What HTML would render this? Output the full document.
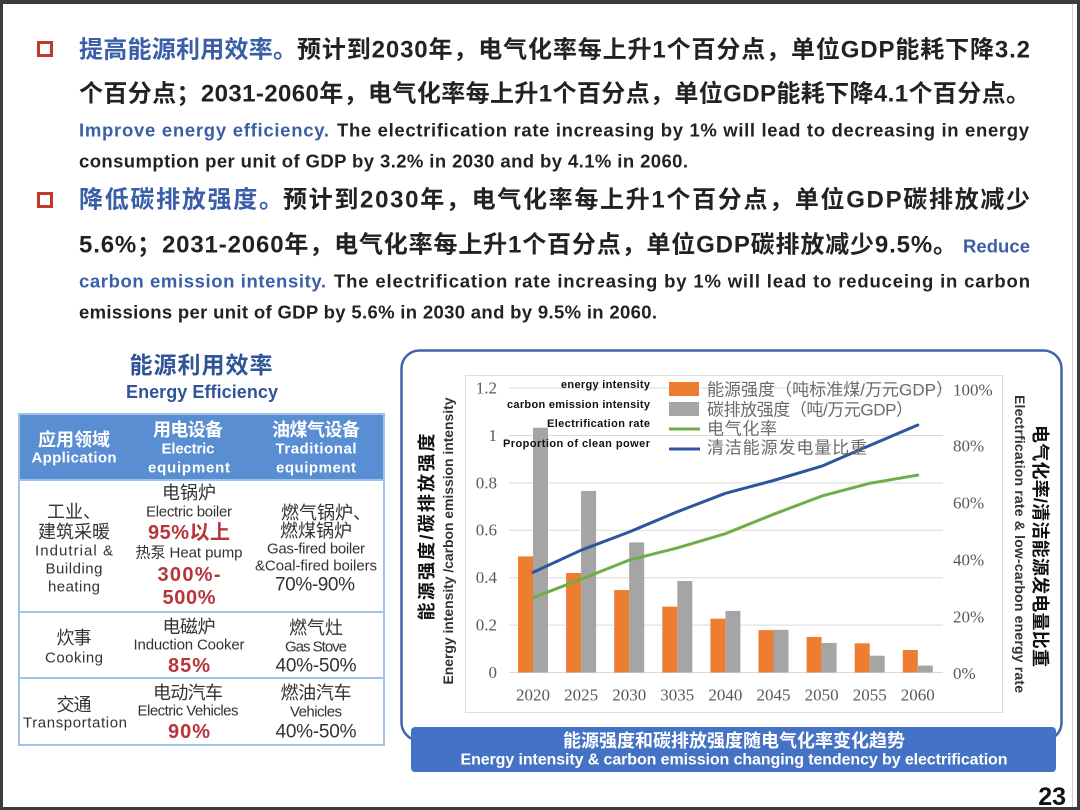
<!DOCTYPE html>
<html>
<head>
<meta charset="utf-8">
<style>
html,body{margin:0;padding:0;background:#fff;}
body{width:1080px;height:810px;overflow:hidden;}
svg{display:block;}
.cj{font-family:"Liberation Sans","Noto Sans CJK SC",sans-serif;}
.b{font-weight:bold;}
.sf{font-family:"Liberation Serif","Noto Serif CJK SC",serif;}
text{dominant-baseline:central;}
</style>
</head>
<body>
<svg width="1080" height="810" viewBox="0 0 1080 810" xmlns="http://www.w3.org/2000/svg">
  <rect x="0" y="0" width="1080" height="810" fill="#fff"/>
  <!-- frame -->
  <line x1="1072.5" y1="0" x2="1072.5" y2="810" stroke="#d0d0d0" stroke-width="1"/>
  <rect x="0" y="0" width="1080" height="4" fill="#3c3c3c"/>
  <rect x="0" y="0" width="3" height="810" fill="#3c3c3c"/>
  <rect x="1077" y="0" width="3" height="810" fill="#3c3c3c"/>
  <rect x="0" y="807" width="1080" height="3" fill="#3c3c3c"/>

  <!-- Top paragraphs -->
  <rect x="38.5" y="42.5" width="13" height="13" fill="none" stroke="#c0392b" stroke-width="3"/>
  <text class="cj b" x="79" y="50" font-size="24" fill="#3a5ea8" textLength="218">提高能源利用效率。</text>
  <text class="cj b" x="297" y="50" font-size="24" fill="#222" textLength="733">预计到2030年，电气化率每上升1个百分点，单位GDP能耗下降3.2</text>
  <text class="cj b" x="79" y="94" font-size="24" fill="#222" textLength="951">个百分点；2031-2060年，电气化率每上升1个百分点，单位GDP能耗下降4.1个百分点。</text>
  <text class="cj b" x="79" y="130" font-size="18.5" fill="#3a5ea8" textLength="250">Improve energy efficiency.</text>
  <text class="cj b" x="337" y="130" font-size="18.5" fill="#222" textLength="692">The electrification rate increasing by 1% will lead to decreasing in energy</text>
  <text class="cj b" x="79" y="161" font-size="18.5" fill="#222" textLength="609">consumption per unit of GDP by 3.2% in 2030 and by 4.1% in 2060.</text>

  <rect x="38.5" y="193.5" width="13" height="13" fill="none" stroke="#c0392b" stroke-width="3"/>
  <text class="cj b" x="79" y="200" font-size="24" fill="#3a5ea8" textLength="204">降低碳排放强度。</text>
  <text class="cj b" x="283" y="200" font-size="24" fill="#222" textLength="747">预计到2030年，电气化率每上升1个百分点，单位GDP碳排放减少</text>
  <text class="cj b" x="79" y="245" font-size="24" fill="#222" textLength="878">5.6%；2031-2060年，电气化率每上升1个百分点，单位GDP碳排放减少9.5%。</text>
  <text class="cj b" x="963" y="246" font-size="18.5" fill="#3a5ea8" textLength="67">Reduce</text>
  <text class="cj b" x="79" y="281" font-size="18.5" fill="#3a5ea8" textLength="247">carbon emission intensity.</text>
  <text class="cj b" x="334" y="281" font-size="18.5" fill="#222" textLength="696">The electrification rate increasing by 1% will lead to reduceing in carbon</text>
  <text class="cj b" x="79" y="312" font-size="18.5" fill="#222" textLength="578">emissions per unit of GDP by 5.6% in 2030 and by 9.5% in 2060.</text>

  <!-- Left table -->
  <text class="cj b" x="201" y="365" font-size="23" fill="#2f5597" text-anchor="middle" textLength="143">能源利用效率</text>
  <text class="cj b" x="202" y="392" font-size="18" fill="#2f5597" text-anchor="middle" textLength="152">Energy Efficiency</text>

  <rect x="18" y="413" width="367" height="67" fill="#5a8ed2"/>
  <rect x="19" y="414" width="365" height="331" fill="none" stroke="#9fc2e7" stroke-width="2"/>
  <line x1="19" y1="480" x2="384" y2="480" stroke="#9fc2e7" stroke-width="2"/>
  <line x1="19" y1="612" x2="384" y2="612" stroke="#9fc2e7" stroke-width="2"/>
  <line x1="19" y1="678" x2="384" y2="678" stroke="#9fc2e7" stroke-width="2"/>

  <g class="cj b" fill="#fff" text-anchor="middle">
    <text x="74" y="440" font-size="18" textLength="72">应用领域</text>
    <text x="74" y="458" font-size="15" textLength="85">Application</text>
    <text x="188" y="430" font-size="18" textLength="70">用电设备</text>
    <text x="188" y="449" font-size="15" textLength="53">Electric</text>
    <text x="189" y="468" font-size="15" textLength="82">equipment</text>
    <text x="316" y="430" font-size="18" textLength="88">油煤气设备</text>
    <text x="316" y="449" font-size="15" textLength="81">Traditional</text>
    <text x="316" y="468" font-size="15" textLength="80">equipment</text>
  </g>

  <g class="cj" fill="#333" text-anchor="middle">
    <text x="47" y="512" font-size="18" text-anchor="start">工业、</text>
    <text x="74" y="532" font-size="18" textLength="72">建筑采暖</text>
    <text x="74" y="551" font-size="15" textLength="78">Indutrial &amp;</text>
    <text x="74" y="569" font-size="15" textLength="57">Building</text>
    <text x="74" y="587" font-size="15" textLength="52">heating</text>

    <text x="189" y="493" font-size="18" textLength="54">电锅炉</text>
    <text x="189" y="512" font-size="15" textLength="86">Electric boiler</text>
    <text x="189" y="553" font-size="15" textLength="107">热泵 Heat pump</text>

    <text x="281" y="513" font-size="18" text-anchor="start">燃气锅炉、</text>
    <text x="316" y="531" font-size="18" textLength="72">燃煤锅炉</text>
    <text x="316" y="549" font-size="15" textLength="98">Gas-fired boiler</text>
    <text x="316" y="566" font-size="15" textLength="122">&amp;Coal-fired boilers</text>
    <text x="315" y="585" font-size="19" textLength="80">70%-90%</text>

    <text x="74" y="638" font-size="18" textLength="35">炊事</text>
    <text x="74" y="658" font-size="15" textLength="58">Cooking</text>
    <text x="189" y="627" font-size="18" textLength="53">电磁炉</text>
    <text x="189" y="645" font-size="15" textLength="111">Induction Cooker</text>
    <text x="316" y="628" font-size="18" textLength="54">燃气灶</text>
    <text x="316" y="647" font-size="15" textLength="62">Gas Stove</text>
    <text x="316" y="666" font-size="19" textLength="81">40%-50%</text>

    <text x="74" y="705" font-size="18" textLength="35">交通</text>
    <text x="75" y="723" font-size="15" textLength="104">Transportation</text>
    <text x="188" y="693" font-size="18" textLength="70">电动汽车</text>
    <text x="188" y="711" font-size="15" textLength="101">Electric Vehicles</text>
    <text x="316" y="693" font-size="18" textLength="71">燃油汽车</text>
    <text x="316" y="712" font-size="15" textLength="52">Vehicles</text>
    <text x="316" y="732" font-size="19" textLength="81">40%-50%</text>
  </g>
  <g class="cj b" fill="#b8343a" text-anchor="middle">
    <text x="189" y="533" font-size="20" textLength="82">95%以上</text>
    <text x="189" y="575" font-size="20" textLength="63">300%-</text>
    <text x="189" y="598" font-size="20" textLength="53">500%</text>
    <text x="189" y="666" font-size="20" textLength="42">85%</text>
    <text x="189" y="732" font-size="20" textLength="42">90%</text>
  </g>

  <!-- Chart container -->
  <rect x="401.5" y="350.5" width="660" height="390" rx="18" ry="18" fill="#fff" stroke="#3e65a5" stroke-width="2.5"/>
  <rect x="465.5" y="375.5" width="537" height="337" fill="none" stroke="#dcdcdc" stroke-width="1"/>

  <!-- gridlines -->
  <g stroke="#d9d9d9" stroke-width="1">
    <line x1="509" y1="672.5" x2="943" y2="672.5"/>
    <line x1="509" y1="625.1" x2="943" y2="625.1"/>
    <line x1="509" y1="577.7" x2="943" y2="577.7"/>
    <line x1="509" y1="530.3" x2="943" y2="530.3"/>
    <line x1="509" y1="482.9" x2="943" y2="482.9"/>
    <line x1="509" y1="435.5" x2="943" y2="435.5"/>
    <line x1="509" y1="388.1" x2="943" y2="388.1"/>
  </g>

  <!-- left tick labels -->
  <g class="sf" font-size="17" fill="#595959" text-anchor="end">
    <text x="497" y="388">1.2</text>
    <text x="497" y="435.5">1</text>
    <text x="497" y="483">0.8</text>
    <text x="497" y="530">0.6</text>
    <text x="497" y="577.7">0.4</text>
    <text x="497" y="625">0.2</text>
    <text x="497" y="672.5">0</text>
  </g>
  <!-- right tick labels -->
  <g class="sf" font-size="17" fill="#595959">
    <text x="953" y="390">100%</text>
    <text x="953" y="446">80%</text>
    <text x="953" y="503">60%</text>
    <text x="953" y="560">40%</text>
    <text x="953" y="617">20%</text>
    <text x="953" y="673.5">0%</text>
  </g>
  <!-- x labels -->
  <g class="sf" font-size="17" fill="#595959" text-anchor="middle">
    <text x="533" y="695">2020</text>
    <text x="581.1" y="695">2025</text>
    <text x="629.2" y="695">2030</text>
    <text x="677.3" y="695">3035</text>
    <text x="725.4" y="695">2040</text>
    <text x="773.5" y="695">2045</text>
    <text x="821.6" y="695">2050</text>
    <text x="869.7" y="695">2055</text>
    <text x="917.8" y="695">2060</text>
  </g>

  <!-- bars -->
  <g fill="#ed7d31">
    <rect x="518" y="556.4" width="15" height="116.1"/>
    <rect x="566.1" y="573.0" width="15" height="99.5"/>
    <rect x="614.2" y="590.0" width="15" height="82.5"/>
    <rect x="662.3" y="606.6" width="15" height="65.9"/>
    <rect x="710.4" y="618.7" width="15" height="53.8"/>
    <rect x="758.5" y="630.1" width="15" height="42.4"/>
    <rect x="806.6" y="636.9" width="15" height="35.6"/>
    <rect x="854.7" y="643.3" width="15" height="29.2"/>
    <rect x="902.8" y="650.0" width="15" height="22.5"/>
  </g>
  <g fill="#a5a5a5">
    <rect x="533" y="427.7" width="15" height="244.8"/>
    <rect x="581.1" y="491.0" width="15" height="181.5"/>
    <rect x="629.2" y="542.4" width="15" height="130.1"/>
    <rect x="677.3" y="581.0" width="15" height="91.5"/>
    <rect x="725.4" y="610.9" width="15" height="61.6"/>
    <rect x="773.5" y="629.8" width="15" height="42.7"/>
    <rect x="821.6" y="642.9" width="15" height="29.6"/>
    <rect x="869.7" y="655.7" width="15" height="16.8"/>
    <rect x="917.8" y="665.6" width="15" height="6.9"/>
  </g>

  <!-- legend -->
  <g class="cj b" font-size="11" fill="#111" text-anchor="end">
    <text x="650" y="385" textLength="89">energy intensity</text>
    <text x="650" y="405" textLength="143">carbon emission intensity</text>
    <text x="650" y="424" textLength="103">Electrification rate</text>
    <text x="650" y="444" textLength="147">Proportion of clean power</text>
  </g>
  <rect x="669" y="382" width="30" height="14" fill="#ed7d31"/>
  <rect x="669" y="402" width="30" height="14" fill="#a5a5a5"/>
  <line x1="669" y1="429" x2="700" y2="429" stroke="#70ad47" stroke-width="3"/>

  <!-- lines -->
  <polyline fill="none" stroke="#70ad47" stroke-width="3" stroke-linejoin="round" stroke-linecap="round"
    points="533,597.7 581.1,579.2 629.2,560.1 677.3,547.9 725.4,533.7 773.5,514.3 821.6,496.1 869.7,483.3 917.8,475.1"/>
  <polyline fill="none" stroke="#2f54a0" stroke-width="3" stroke-linejoin="round" stroke-linecap="round"
    points="533,572.4 581.1,550.2 629.2,532.0 677.3,511.8 725.4,493.3 773.5,480.5 821.6,466.2 869.7,445.5 917.8,425.0"/>
  <line x1="669" y1="449" x2="700" y2="449" stroke="#2f54a0" stroke-width="3"/>

  <g class="cj" font-size="17" fill="#6b6b6b">
    <text x="707" y="390" textLength="246">能源强度（吨标准煤/万元GDP）</text>
    <text x="707" y="410" textLength="206">碳排放强度（吨/万元GDP）</text>
    <text x="707" y="429" textLength="70">电气化率</text>
    <text x="707" y="448" textLength="160">清洁能源发电量比重</text>
  </g>

  <!-- axis titles -->
  <text class="cj b" font-size="18" fill="#111" text-anchor="middle" textLength="187" transform="translate(427,527) rotate(-90)" x="0" y="0">能源强度/碳排放强度</text>
  <text class="cj b" font-size="14" fill="#333" text-anchor="middle" textLength="287" transform="translate(448,541) rotate(-90)" x="0" y="0">Energy intensity /carbon emission intensity</text>
  <text class="cj b" font-size="18" fill="#111" text-anchor="middle" textLength="242" transform="translate(1040,546) rotate(90)" x="0" y="0">电气化率/清洁能源发电量比重</text>
  <text class="cj b" font-size="14" fill="#333" text-anchor="middle" textLength="298" transform="translate(1020,544) rotate(90)" x="0" y="0">Electrfication rate &amp; low-carbon energy rate</text>

  <!-- caption band -->
  <rect x="411" y="727" width="645" height="45" rx="4" ry="4" fill="#4472c4"/>
  <text class="cj b" x="734" y="741" font-size="18" fill="#fff" text-anchor="middle" textLength="342">能源强度和碳排放强度随电气化率变化趋势</text>
  <text class="cj b" x="734" y="760" font-size="16" fill="#fff" text-anchor="middle" textLength="547">Energy intensity &amp; carbon emission changing tendency by electrification</text>

  <!-- page number -->
  <text class="cj b" x="1066" y="797" font-size="25" fill="#111" text-anchor="end">23</text>
</svg>
</body>
</html>
